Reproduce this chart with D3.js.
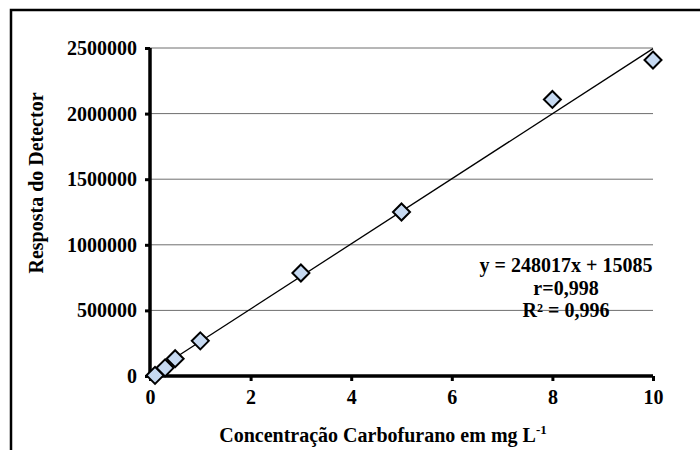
<!DOCTYPE html>
<html>
<head>
<meta charset="utf-8">
<script src="https://cdn.jsdelivr.net/npm/d3@7"></script>
<style>
  body { margin: 0; background: #fff; }
  svg { display: block; }
  text { font-family: "Liberation Serif", "Times New Roman", serif; font-weight: bold; fill: #000; }
</style>
</head>
<body>
<div id="mount"></div>
<script>
// concentration (mg/L) and detector response
var concs = [0.1, 0.3, 0.5, 1, 3, 5, 8, 10];
var responses = [5000, 62000, 132000, 268000, 785000, 1250000, 2108000, 2408000];
var xTicks = [0, 2, 4, 6, 8, 10];
var yTicks = [0, 500000, 1000000, 1500000, 2000000, 2500000];
var slope = 248017;
var intercept = 15085;
var eqLines = ['y = 248017x + 15085', 'r=0,998', 'R\u00b2 = 0,996'];

var WIDTH = 700;
var HEIGHT = 450;
var plot = { left: 150, right: 653, top: 48, bottom: 376 };
var SERIF = '"Liberation Serif", "Times New Roman", serif';

var x = d3.scaleLinear().domain([0, 10]).range([plot.left, plot.right]);
var y = d3.scaleLinear().domain([0, 2500000]).range([plot.bottom, plot.top]);

var $svg = d3.select('#mount')
  .append('svg')
  .attr('width', WIDTH)
  .attr('height', HEIGHT);

// outer frame, runs off the right and bottom edges
$svg.append('rect')
  .attr('x', 11).attr('y', 10)
  .attr('width', 720).attr('height', 470)
  .attr('fill', 'none')
  .attr('stroke', '#000')
  .attr('stroke-width', 2.5);

// grid
$svg.append('g').selectAll('line')
  .data(yTicks.slice(1))
  .enter()
  .append('line')
  .attr('x1', plot.left).attr('x2', plot.right)
  .attr('y1', function (d) { return y(d); })
  .attr('y2', function (d) { return y(d); })
  .attr('stroke', '#6e6e6e')
  .attr('stroke-width', 1);

var yAxis = $svg.append('g')
  .attr('transform', 'translate(' + plot.left + ',0)')
  .call(d3.axisLeft(y).tickValues(yTicks).tickFormat(d3.format('d')).tickSize(5).tickPadding(8));

var xAxis = $svg.append('g')
  .attr('transform', 'translate(0,' + plot.bottom + ')')
  .call(d3.axisBottom(x).tickValues(xTicks).tickFormat(d3.format('d')).tickSize(5).tickPadding(9));

[yAxis, xAxis].forEach(function ($a) {
  $a.select('.domain').attr('stroke', '#000').attr('stroke-width', 3.5);
  $a.selectAll('.tick line').attr('stroke', '#000').attr('stroke-width', 3);
  $a.selectAll('.tick text')
    .style('font-family', SERIF)
    .style('font-weight', 'bold')
    .style('font-size', '20px')
    .attr('fill', '#000');
});
yAxis.select('.domain').attr('d', 'M0,' + plot.bottom + 'V' + plot.top);
xAxis.select('.domain').attr('d', 'M' + plot.left + ',0H' + plot.right);

// trend line over data range
var xMin = d3.min(concs), xMax = d3.max(concs);
$svg.append('line')
  .attr('x1', x(xMin)).attr('y1', y(slope * xMin + intercept))
  .attr('x2', x(xMax)).attr('y2', y(slope * xMax + intercept))
  .attr('stroke', '#000')
  .attr('stroke-width', 1.3);

// points
var pts = concs.map(function (c, i) { return [c, responses[i]]; });
$svg.append('g').selectAll('path')
  .data(pts)
  .enter()
  .append('path')
  .attr('transform', function (d) { return 'translate(' + x(d[0]) + ',' + y(d[1]) + ')'; })
  .attr('d', 'M0,-8.5L8.5,0L0,8.5L-8.5,0Z')
  .attr('fill', '#c6d9f1')
  .attr('stroke', '#000')
  .attr('stroke-width', 2);

// equation
$svg.append('g').selectAll('text')
  .data(eqLines)
  .enter()
  .append('text')
  .attr('x', 566)
  .attr('y', function (d, i) { return 272 + i * 22.5; })
  .attr('text-anchor', 'middle')
  .style('font-family', SERIF)
  .style('font-size', '20px')
  .text(function (d) { return d; });

// axis titles
var xt = $svg.append('text')
  .attr('x', 383).attr('y', 442)
  .attr('text-anchor', 'middle')
  .style('font-family', SERIF)
  .style('font-size', '20px');
xt.append('tspan').text('Concentração Carbofurano em mg L');
xt.append('tspan').attr('dy', -8).style('font-size', '13px').text('-1');

$svg.append('text')
  .attr('transform', 'translate(43,183) rotate(-90)')
  .attr('text-anchor', 'middle')
  .style('font-family', SERIF)
  .style('font-size', '20px')
  .text('Resposta do Detector');
</script>
</body>
</html>
